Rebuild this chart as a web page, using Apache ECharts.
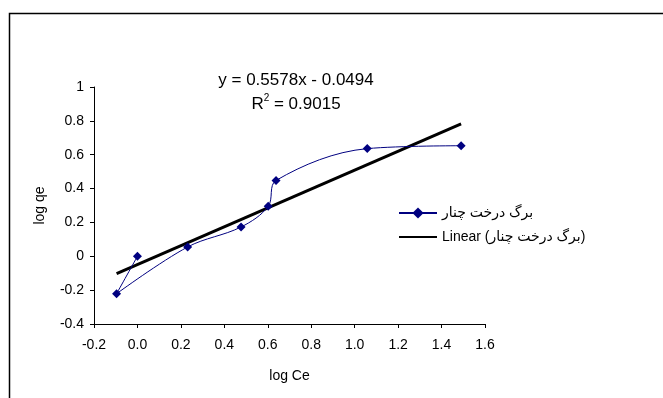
<!DOCTYPE html>
<html>
<head>
<meta charset="utf-8">
<script src="https://cdn.jsdelivr.net/npm/echarts@6/dist/echarts.min.js"></script>
<style>
  html, body { margin: 0; padding: 0; background: #fff; }
  #chart { width: 663px; height: 398px; }
</style>
</head>
<body>
<div id="chart"></div>
<script>
// Freundlich isotherm: log Ce vs log qe for plane-tree leaves
const seriesName = 'برگ درخت چنار';
const trendName = 'Linear (برگ درخت چنار)';
const logCe = [0.0, -0.096, 0.231, 0.477, 0.602, 0.638, 1.058, 1.490];
const logQe = [0.0, -0.221, 0.055, 0.173, 0.295, 0.448, 0.636, 0.653];
const slope = 0.5578;
const intercept = -0.0494;
const equationText = 'y = 0.5578x - 0.0494';
const r2Text = '0.9015';

const xMin = Math.min(...logCe);
const xMax = Math.max(...logCe);
const trend = [[xMin, slope * xMin + intercept], [xMax, slope * xMax + intercept]];

const font = '"Liberation Sans", Arial, "DejaVu Sans", sans-serif';
const chart = echarts.init(document.getElementById('chart'));
chart.setOption({
  animation: false,
  textStyle: { fontFamily: font },
  grid: { left: 94, right: 178, top: 87, bottom: 74 },
  graphic: [
    {
      type: 'rect', silent: true, z: -1,
      shape: { x: 9.5, y: 13.5, width: 700, height: 450 },
      style: { fill: 'none', stroke: '#000', lineWidth: 1.5 }
    },
    {
      type: 'text', x: 296, y: 80,
      style: { text: equationText, font: '17px ' + font, fill: '#000', align: 'center', verticalAlign: 'middle' }
    },
    {
      type: 'text', x: 296, y: 103,
      style: {
        text: '{n|R}{s|2}{n| = ' + r2Text + '}',
        align: 'center', verticalAlign: 'middle',
        rich: {
          n: { fontSize: 17, fontFamily: font, color: '#000', verticalAlign: 'bottom', lineHeight: 19 },
          s: { fontSize: 10, fontFamily: font, color: '#000', verticalAlign: 'top', lineHeight: 11, padding: [0, 0, 8, 0] }
        }
      }
    }
  ],
  legend: {
    orient: 'vertical',
    left: 393, top: 201,
    itemWidth: 38, itemHeight: 14, itemGap: 10,
    textStyle: { fontSize: 14, color: '#000', fontFamily: font },
    data: [
      { name: seriesName },
      { name: trendName, itemStyle: { opacity: 0 } }
    ]
  },
  xAxis: {
    type: 'value', min: -0.2, max: 1.6, interval: 0.2,
    name: 'log Ce', nameLocation: 'middle', nameGap: 45,
    nameTextStyle: { fontSize: 14, color: '#000' },
    axisLine: { onZero: false, lineStyle: { color: '#000', width: 1 } },
    axisTick: { length: 4, lineStyle: { color: '#000' } },
    axisLabel: { fontSize: 14, color: '#000', margin: 14, formatter: v => v.toFixed(1) },
    splitLine: { show: false }
  },
  yAxis: {
    type: 'value', min: -0.4, max: 1, interval: 0.2,
    name: 'log qe', nameLocation: 'middle', nameGap: 47,
    nameTextStyle: { fontSize: 14, color: '#000' },
    axisLine: { show: true, onZero: false, lineStyle: { color: '#000', width: 1 } },
    axisTick: { show: true, length: 4, lineStyle: { color: '#000' } },
    axisLabel: { fontSize: 14, color: '#000', margin: 10, formatter: v => String(Math.round(v * 10) / 10) },
    splitLine: { show: false }
  },
  series: [
    {
      name: seriesName, type: 'line', smooth: 0.35,
      data: logCe.map((x, i) => [x, logQe[i]]),
      symbol: 'diamond', symbolSize: 9,
      lineStyle: { color: '#000080', width: 1 },
      itemStyle: { color: '#000080' },
      z: 3
    },
    {
      name: trendName, type: 'line',
      data: trend, symbol: 'none',
      lineStyle: { color: '#000', width: 3 },
      itemStyle: { color: '#000' },
      z: 2
    }
  ]
});
</script>
</body>
</html>
